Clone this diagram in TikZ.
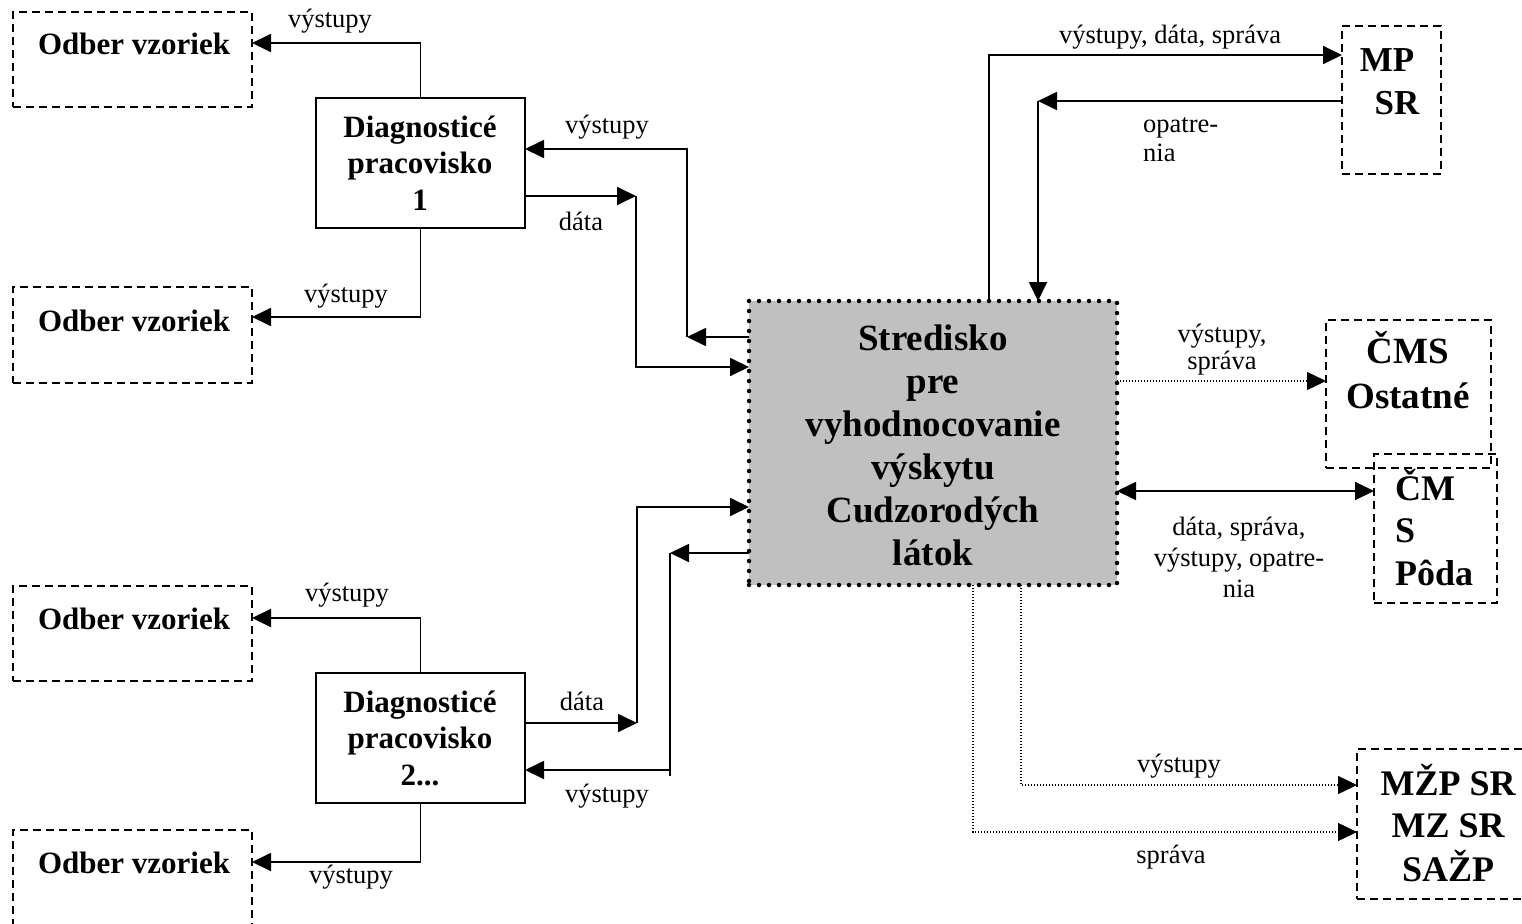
\documentclass[tikz,border=0pt]{standalone}
\usepackage{fontspec}
\setmainfont{Liberation Serif}
\usetikzlibrary{arrows.meta}
\definecolor{boxgray}{HTML}{C0C0C0}
\newcommand\mlines[2]{\begin{tabular}[t]{@{}#1@{}}#2\end{tabular}}
\tikzset{
  ln/.style={line width=1.8pt},
  tip/.tip={Triangle[length=19pt,width=18pt]},
  arr/.style={ln,-tip},
  darr/.style={line width=1.3pt,dash pattern=on 1.3pt off 1.7pt,-tip},
  dbox/.style={draw,line width=2pt,dash pattern=on 8pt off 5pt,inner sep=0pt,outer sep=0pt},
  sbox/.style={draw,line width=1.8pt,inner sep=0pt,outer sep=0pt},
  cbox/.style={draw,fill=boxgray,line width=4.5pt,dash pattern=on 0pt off 10pt,line cap=round,inner sep=0pt,outer sep=0pt},
  bt/.style={font=\fontsize{31}{36.5}\selectfont\bfseries,anchor=base,inner sep=0pt},
  ct/.style={font=\fontsize{37}{43}\selectfont\bfseries,anchor=base,inner sep=0pt},
  rt/.style={font=\fontsize{35}{41}\selectfont\bfseries,anchor=base,inner sep=0pt},
  lt/.style={font=\fontsize{26.5}{30}\selectfont,anchor=base,inner sep=0pt},
}
\begin{document}
\begin{tikzpicture}[x=1pt,y=-1pt]
\useasboundingbox (0,0) rectangle (1522,923);
% boxes
\node[dbox,minimum width=239pt,minimum height=95pt] (o1) at (132.5,59.5) {};
\node[dbox,minimum width=239pt,minimum height=96pt] (o2) at (132.5,335) {};
\node[dbox,minimum width=239pt,minimum height=95pt] (o3) at (132.5,633.5) {};
\node[dbox,minimum width=239pt,minimum height=96pt] (o4) at (132.5,878) {};
\node[sbox,minimum width=209pt,minimum height=130pt] (d1) at (420.5,163) {};
\node[sbox,minimum width=209pt,minimum height=130pt] (d2) at (420.5,738) {};
\node[cbox,minimum width=368pt,minimum height=284pt] (c) at (933,443) {};
\node[dbox,minimum width=99pt,minimum height=148pt] (mp) at (1391.5,100) {};
\node[dbox,minimum width=165pt,minimum height=148pt] (co) at (1408.5,394) {};
\node[dbox,minimum width=123pt,minimum height=149pt] (cp) at (1435.5,528.5) {};
\node[dbox,minimum width=170pt,minimum height=150pt] (mz) at (1442,824) {};
% box texts
\node[bt] (to1) at (134,55) {Odber vzoriek};
\node[bt] (to2) at (134,331) {Odber vzoriek};
\node[bt] (to3) at (134,629) {Odber vzoriek};
\node[bt] (to4) at (134,873) {Odber vzoriek};
\node[bt] (td1) at (420,137) {\mlines{c}{Diagnosticé\\pracovisko\\1}};
\node[bt] (td2) at (420,712) {\mlines{c}{Diagnosticé\\pracovisko\\2...}};
\node[ct] (tc) at (933,350) {\mlines{c}{Stredisko\\pre\\vyhodnocovanie\\výskytu\\Cudzorodých\\látok}};
\node[rt,font=\fontsize{35}{43}\selectfont\bfseries] (tmp) at (1397,72) {\mlines{c}{MP\kern20pt\\SR}};
\node[ct,font=\fontsize{37}{45}\selectfont\bfseries] (tco) at (1408,363) {\mlines{c}{ČMS\\Ostatné}};
\node[ct,font=\fontsize{36}{42.5}\selectfont\bfseries,anchor=base west] (tcp) at (1395,500) {\mlines{l}{ČM\\S\\Pôda}};
\node[rt,font=\fontsize{36}{42.5}\selectfont\bfseries] (tmz) at (1448,795) {\mlines{c}{MŽP SR\\MZ SR\\SAŽP}};
% connectors left
\draw[arr] (d1.north) |- (o1.east |- 0,43);
\draw[arr] (d1.south) |- (o2.east |- 0,317);
\draw[arr] (d2.north) |- (o3.east |- 0,618);
\draw[arr] (d2.south) |- (o4.east |- 0,862);
\coordinate (k1) at (687,337);
\draw[arr] (c.west |- k1) -- (k1);
\draw[arr] (k1) |- (d1.east |- 0,149);
\coordinate (k2) at (636,196);
\draw[arr] (d1.east |- k2) -- (k2);
\draw[arr] (k2) |- (c.west |- 0,367);
\coordinate (k3) at (637,723);
\draw[arr] (d2.east |- k3) -- (k3);
\draw[arr] (k3) |- (c.west |- 0,507);
\coordinate (k4) at (670,553);
\coordinate (k5) at (670,776);
\draw[arr] (c.west |- k4) -- (k4);
\draw[ln] (k4) -- (k5);
\draw[arr] (k5 |- 0,770) -- (d2.east |- 0,770);
% connectors right
\draw[arr] (c.north -| 989,0) |- (mp.west |- 0,55);
\coordinate (k6) at (1038,101);
\draw[arr] (mp.west |- k6) -- (k6);
\draw[arr] (k6) -- (c.north -| k6);
\draw[darr] (c.east |- 0,381) -- (co.west |- 0,381);
\draw[ln,tip-tip] (c.east |- 0,491) -- (cp.west |- 0,491);
\draw[darr] (c.south -| 1021,0) |- (mz.west |- 0,785);
\draw[darr] (c.south -| 973,0) |- (mz.west |- 0,832);
% labels
\node[lt] (l1) at (330,28) {výstupy};
\node[lt] (l2) at (346,302) {výstupy};
\node[lt] (l3) at (347,601) {výstupy};
\node[lt] (l4) at (351,883) {výstupy};
\node[lt] (l5) at (607,133) {výstupy};
\node[lt] (l6) at (581,230) {dáta};
\node[lt] (l7) at (582,710) {dáta};
\node[lt] (l8) at (607,802) {výstupy};
\node[lt] (l9) at (1170,44) {výstupy, dáta, správa};
\node[lt,anchor=base west,font=\fontsize{26.5}{29}\selectfont] (l10) at (1143,132) {\mlines{l}{opatre-\\nia}};
\node[lt,font=\fontsize{26.5}{27.5}\selectfont] (l11) at (1222,342) {\mlines{c}{výstupy,\\správa}};
\node[lt,font=\fontsize{26.5}{31}\selectfont] (l12) at (1239,535) {\mlines{c}{dáta, správa,\\výstupy, opatre-\\nia}};
\node[lt] (l13) at (1179,772) {výstupy};
\node[lt] (l14) at (1171,863) {správa};
\end{tikzpicture}
\end{document}
